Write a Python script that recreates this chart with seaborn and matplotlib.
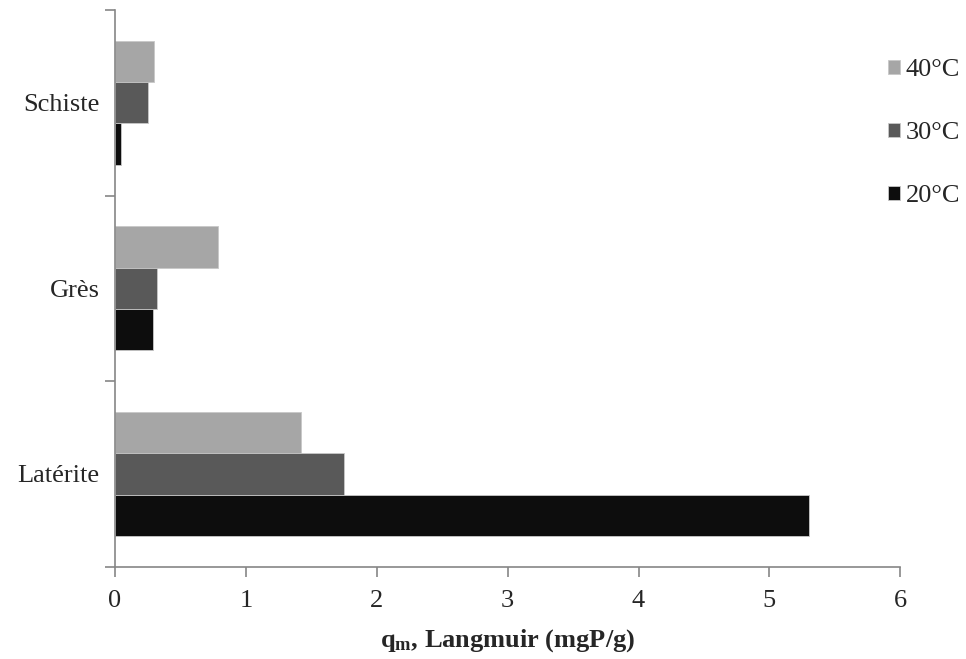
import matplotlib
matplotlib.use("Agg")
import matplotlib.pyplot as plt
import seaborn as sns
import pandas as pd

rocks = ["Schiste", "Grès", "Latérite"]
temps = ["40°C", "30°C", "20°C"]
qm_40 = [0.30, 0.79, 1.42]
qm_30 = [0.25, 0.32, 1.75]
qm_20 = [0.05, 0.29, 5.30]
colors = ["#A6A6A6", "#595959", "#0D0D0D"]

df = pd.DataFrame({
    "rock": rocks * 3,
    "temp": [t for t in temps for _ in rocks],
    "qm": qm_40 + qm_30 + qm_20,
})

sns.set_style("white")
plt.rcParams["font.family"] = ["Liberation Serif", "DejaVu Serif"]
plt.rcParams["mathtext.fontset"] = "custom"
plt.rcParams["mathtext.bf"] = "Liberation Serif:bold"
plt.rcParams["mathtext.rm"] = "Liberation Serif"

fig = plt.figure(figsize=(9.66, 6.59), dpi=100)
ax = fig.add_axes([0.119, 0.140, 0.813, 0.845])

sns.barplot(data=df, x="qm", y="rock", hue="temp", order=rocks,
            hue_order=temps, palette=colors, orient="h", width=0.67,
            edgecolor="#c8c8c8", linewidth=0.6, ax=ax, errorbar=None)

ax.set_xlim(0, 6)
ax.set_xticks(range(7))
ax.set_ylim(2.5, -0.5)
ax.set_yticks([-0.5, 0.5, 1.5, 2.5])
ax.set_yticklabels([])
ax.set_yticks([0, 1, 2], minor=True)
ax.set_yticklabels(rocks, minor=True)
ax.tick_params(axis="y", which="minor", left=False, labelsize=19, pad=9)
ax.tick_params(axis="y", which="major", left=True, length=7, color="#868686",
               width=1.2, direction="out")
ax.tick_params(axis="x", bottom=True, length=7, color="#868686", width=1.2,
               labelsize=19, direction="out", pad=10)

for s in ["top", "right"]:
    ax.spines[s].set_visible(False)
for s in ["left", "bottom"]:
    ax.spines[s].set_color("#868686")
    ax.spines[s].set_linewidth(1.2)

ax.set_ylabel("")
ax.set_xlabel(r"$\mathbf{q_{m}}$, Langmuir (mgP/g)", fontsize=19,
              fontweight="bold", labelpad=11)

ax.legend(title=None, loc="upper left", bbox_to_anchor=(0.971, 0.93),
          frameon=False, fontsize=19, handlelength=0.47, handleheight=0.47,
          handletextpad=0.2, labelspacing=1.55, borderaxespad=0)

fig.savefig("out.png", dpi=100)
